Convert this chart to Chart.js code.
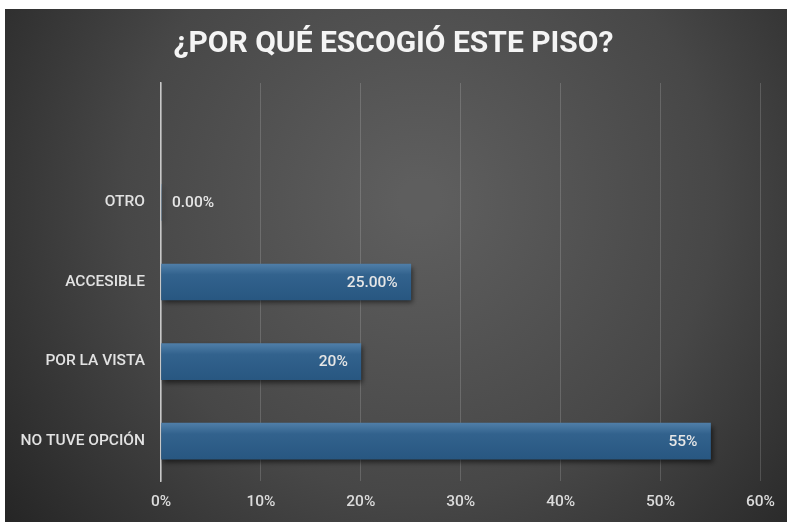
<!DOCTYPE html>
<html lang="es">
<head>
<meta charset="utf-8">
<title>¿Por qué escogió este piso?</title>
<script src="https://cdn.jsdelivr.net/npm/chart.js@4.4.0/dist/chart.umd.min.js"></script>
<style>
  html, body { margin: 0; padding: 0; background: #fff; }
  #wrap { width: 787px; height: 522px; }
</style>
</head>
<body>
<div id="wrap"><canvas id="pisoChart" width="787" height="522"></canvas></div>
<script>
// Survey answers, top row first (first row is left empty in the sheet)
const categories = ['', 'OTRO', 'ACCESIBLE', 'POR LA VISTA', 'NO TUVE OPCIÓN'];
const percentages = [null, 0, 25, 20, 55];
const valueLabels = ['', '0.00%', '25.00%', '20%', '55%'];
const xTicks = [0, 10, 20, 30, 40, 50, 60];
const chartTitle = '¿POR QUÉ ESCOGIÓ ESTE PISO?';

const FONT = "'Roboto', 'Liberation Sans', sans-serif";

// dark radial backdrop behind everything
const backdrop = {
    id: 'backdrop',
    beforeDraw(chart) {
        const c = chart.ctx;
        const w = chart.width, h = chart.height;
        c.save();
        c.fillStyle = '#ffffff';
        c.fillRect(0, 0, w, h);
        const g = c.createRadialGradient(420, 200, 20, 420, 200, 520);
        g.addColorStop(0, '#5e5e5e');
        g.addColorStop(0.55, '#474747');
        g.addColorStop(1, '#262626');
        c.fillStyle = g;
        c.fillRect(5, 9, w - 5, h - 9);
        c.restore();
    }
};

// title centred on the whole canvas, not just the plot
const headline = {
    id: 'headline',
    afterDraw(chart) {
        const c = chart.ctx;
        c.save();
        c.font = 'bold 30px ' + FONT;
        c.fillStyle = '#f4f4f4';
        c.textAlign = 'center';
        c.textBaseline = 'middle';
        c.fillText(chartTitle, chart.width / 2, 44);
        c.restore();
    }
};

// soft drop shadow under the bars
const barShadow = {
    id: 'barShadow',
    beforeDatasetsDraw(chart) {
        const c = chart.ctx;
        c.save();
        c.shadowColor = 'rgba(0, 0, 0, 0.55)';
        c.shadowBlur = 5;
        c.shadowOffsetX = 2;
        c.shadowOffsetY = 3;
    },
    afterDatasetsDraw(chart) {
        chart.ctx.restore();
    }
};

// value text at the inner end of each bar
const valueText = {
    id: 'valueText',
    afterDatasetsDraw(chart) {
        const c = chart.ctx;
        const bars = chart.getDatasetMeta(0).data;
        c.save();
        c.font = '500 15.5px ' + FONT;
        c.fillStyle = '#e6e6e6';
        c.textBaseline = 'middle';
        bars.forEach((bar, i) => {
            if (percentages[i] === null) return;
            if (percentages[i] === 0) {
                c.textAlign = 'left';
                c.fillText(valueLabels[i], bar.base + 11, bar.y + 1);
            } else {
                c.textAlign = 'right';
                c.fillText(valueLabels[i], bar.x - 13, bar.y + 1);
            }
        });
        c.restore();
    }
};

function barFill(context) {
    const chart = context.chart;
    if (!chart.chartArea) return '#2b5d88';
    const y = chart.scales.y.getPixelForValue(context.dataIndex);
    const g = chart.ctx.createLinearGradient(0, y - 18, 0, y + 18);
    g.addColorStop(0, '#4f7ea8');
    g.addColorStop(0.3, '#32628d');
    g.addColorStop(1, '#285781');
    return g;
}

const ctx = document.getElementById('pisoChart').getContext('2d');
const pisoChart = new Chart(ctx, {
    type: 'bar',
    data: {
        labels: categories,
        datasets: [{
            data: percentages,
            backgroundColor: barFill,
            borderWidth: 0,
            barThickness: 36
        }]
    },
    options: {
        indexAxis: 'y',
        responsive: false,
        animation: false,
        events: [],
        layout: { padding: { left: 5, right: 26, top: 83, bottom: 0 } },
        scales: {
            x: {
                min: 0,
                max: 60,
                afterBuildTicks(scale) {
                    scale.ticks = xTicks.map(v => ({ value: v }));
                },
                afterFit(scale) { scale.height = 41; },
                grid: {
                    color: 'rgba(255, 255, 255, 0.16)',
                    lineWidth: 1,
                    drawTicks: false
                },
                border: { display: false },
                ticks: {
                    color: '#dcdcdc',
                    padding: 12,
                    font: { family: FONT, size: 15.5, weight: '500' },
                    callback: v => v + '%'
                }
            },
            y: {
                afterFit(scale) { scale.width = 156; },
                grid: { display: false, drawTicks: false },
                border: { display: true, color: '#c8c8c8', width: 1.5 },
                ticks: {
                    color: '#e2e2e2',
                    padding: 16,
                    font: { family: FONT, size: 15.5, weight: '500' }
                }
            }
        },
        plugins: {
            legend: { display: false },
            tooltip: { enabled: false },
            title: { display: false }
        }
    },
    plugins: [backdrop, barShadow, valueText, headline]
});
</script>
</body>
</html>
